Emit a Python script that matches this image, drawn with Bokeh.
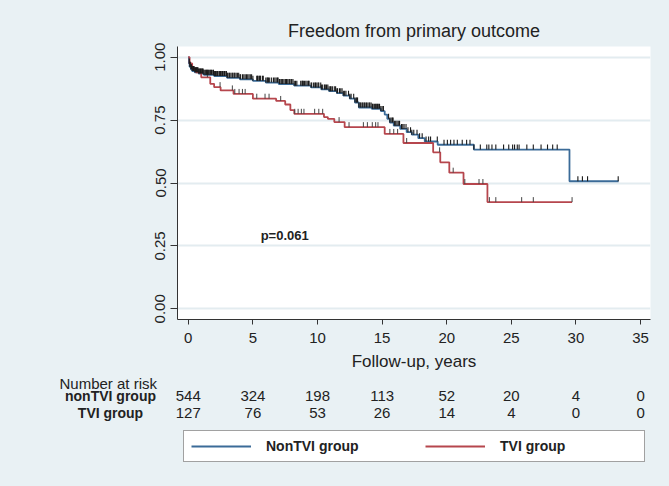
import numpy as np
from bokeh.plotting import figure
from bokeh.layouts import column
from bokeh.models import (ColumnDataSource, Range1d, FixedTicker, Label,
                          Legend, LegendItem, NumeralTickFormatter)
from bokeh.core.properties import value
from bokeh.embed import file_html
from bokeh.resources import INLINE

# ---------------- data ----------------
title_text = "Freedom from primary outcome"
x_label = "Follow-up, years"
p_text = "p=0.061"

nontvi_times = [0, 0.05, 0.1, 0.2, 0.3, 0.5, 0.8, 1.2, 2.0, 3.0, 4.0, 5.0, 6.0, 7.0, 8.2, 9.5,
                10.3, 10.9, 11.5, 12.0, 12.5, 12.9, 13.2, 14.2, 14.9, 15.2, 15.4, 15.6, 15.9,
                16.4, 16.9, 17.3, 17.8, 18.3, 19.3, 22.1, 29.5]
nontvi_surv = [1.0, 0.975, 0.962, 0.952, 0.945, 0.94, 0.935, 0.93, 0.925, 0.918, 0.912, 0.906,
               0.899, 0.893, 0.887, 0.88, 0.872, 0.865, 0.857, 0.847, 0.835, 0.82, 0.80, 0.795,
               0.786, 0.772, 0.755, 0.74, 0.728, 0.715, 0.702, 0.692, 0.678, 0.665, 0.652,
               0.633, 0.507]
nontvi_end = 33.3
nontvi_censor = [0.08, 0.12, 0.15, 0.2, 0.25, 0.3, 0.35, 0.4, 0.45, 0.5, 0.55, 0.6, 0.65, 0.7,
                 0.75, 0.8, 0.85, 0.9, 0.95, 1.0, 1.05, 1.1, 1.15, 1.2, 1.28, 1.35, 1.4, 1.45,
                 1.5, 1.55, 1.62, 1.7, 1.75, 1.8, 1.9, 1.95, 2.0, 2.05, 2.1, 2.2, 2.25, 2.3,
                 2.4, 2.45, 2.5, 2.55, 2.65, 2.7, 2.8, 2.85, 2.95, 3.0, 3.05, 3.15, 3.2, 3.3,
                 3.4, 3.45, 3.55, 3.6, 3.7, 3.8, 3.9, 4.0, 4.05, 4.2, 4.3, 4.4, 4.5, 4.6, 4.7,
                 4.8, 4.9, 5.0, 5.3, 5.35, 5.4, 5.5, 5.55, 5.6, 5.75, 5.8, 6.0, 6.1, 6.15, 6.2,
                 6.3, 6.45, 6.6, 6.7, 6.8, 6.9, 6.95, 7.05, 7.1, 7.2, 7.3, 7.4, 7.5, 7.55, 7.6,
                 7.7, 7.8, 7.85, 7.95, 8.0, 8.1, 8.2, 8.3, 8.4, 8.7, 8.8, 8.85, 8.9, 9.0, 9.1,
                 9.2, 9.3, 9.35, 9.5, 9.55, 9.7, 9.8, 9.85, 9.95, 10.05, 10.1, 10.25, 10.3,
                 10.4, 10.55, 10.6, 10.7, 10.8, 10.9, 11.0, 11.05, 11.15, 11.3, 11.4, 11.5,
                 11.55, 11.7, 11.8, 11.9, 12.0, 12.1, 12.2, 12.4, 12.5, 12.6, 12.8, 12.9, 13.0,
                 13.05, 13.1, 13.2, 13.3, 13.35, 13.45, 13.5, 13.6, 13.65, 13.75, 13.8, 13.9,
                 14.0, 14.05, 14.15, 14.25, 14.3, 14.4, 14.5, 14.55, 14.65, 14.7, 14.8, 14.9,
                 15.0, 15.1, 15.5, 15.6, 15.7, 15.8, 15.85, 15.95, 16.05, 16.15, 16.25, 16.35,
                 16.5, 16.6, 16.7, 16.85, 17.0, 17.2, 17.3, 17.45, 17.7, 17.9, 18.1, 18.4,
                 18.6, 18.75, 19.27, 19.79, 20.05, 20.3, 20.56, 20.82, 21.2, 21.54, 21.8, 22.1,
                 22.6, 23.1, 23.26, 23.5, 23.8, 24.4, 24.8, 25.1, 25.25, 25.46, 25.6, 26.2,
                 26.7, 27.3, 27.8, 28.2, 28.55, 30.15, 30.5, 30.9, 33.27]

tvi_times = [0, 0.1, 0.3, 0.6, 1.0, 1.7, 2.0, 2.5, 3.5, 5.0, 6.8, 7.5, 7.9, 8.2, 10.5, 10.8,
             11.3, 12.1, 15.2, 16.65, 18.95, 19.5, 20.2, 21.3, 23.15]
tvi_surv = [1.0, 0.975, 0.955, 0.94, 0.92, 0.894, 0.881, 0.868, 0.854, 0.835, 0.826, 0.812,
            0.79, 0.775, 0.762, 0.755, 0.742, 0.722, 0.695, 0.659, 0.622, 0.582, 0.541,
            0.496, 0.424]
tvi_end = 29.7
tvi_censor = [0.66, 1.48, 2.46, 3.41, 3.6, 3.93, 4.19, 4.4, 5.3, 5.94, 6.25, 7.15, 8.24, 8.5,
              8.75, 8.95, 9.78, 10.1, 10.4, 11.67, 12.44, 13.55, 13.86, 14.24, 14.5, 14.68,
              15.6, 15.9, 16.2, 16.9, 19.45, 20.5, 21.4, 22.5, 22.8, 23.3, 23.8, 25.8, 26.7,
              29.7]

x_ticks = [0, 5, 10, 15, 20, 25, 30, 35]
y_ticks = [0.0, 0.25, 0.5, 0.75, 1.0]
risk_times = [0, 5, 10, 15, 20, 25, 30, 35]
risk_nontvi = [544, 324, 198, 113, 52, 20, 4, 0]
risk_tvi = [127, 76, 53, 26, 14, 4, 0, 0]
risk_header = "Number at risk"
risk_groups = ["nonTVI group", "TVI group"]
legend_labels = ["NonTVI group", "TVI group"]

# ---------------- layout / style ----------------
W, H = 669, 486
H_TOP = 374
FL, FR, FT, FB = 177, 650, 46, 319
X0, X1 = -0.835, 35.77
Y0, Y1 = -0.0425, 1.0425
SX = (FR - FL) / (X1 - X0)
SY = (FB - FT) / (Y1 - Y0)


def px_x(px):
    return X0 + (px - FL) / SX


BG = "#e9f1f4"
BLUE = "#3b6b98"
RED = "#b6464d"
TXT = "#222222"
FONT = "Liberation Sans"

# ---------------- main plot ----------------
p = figure(width=W, height=H_TOP, x_range=Range1d(X0, X1), y_range=Range1d(Y0, Y1),
           output_backend="svg", toolbar_location=None, title=title_text,
           min_border_left=FL, min_border_right=W - FR, min_border_top=FT,
           min_border_bottom=H_TOP - FB)
p.frame_align = False
p.border_fill_color = BG
p.background_fill_color = "white"
p.outline_line_color = None

p.title.align = "center"
p.title.text_font = FONT
p.title.text_font_size = "18px"
p.title.text_font_style = "normal"
p.title.text_color = TXT
p.title.standoff = 12

for ax in (p.xaxis[0], p.yaxis[0]):
    ax.axis_line_color = "#333333"
    ax.major_tick_line_color = "#333333"
    ax.minor_tick_line_color = None
    ax.major_tick_in = 0
    ax.major_label_text_font = FONT
    ax.major_label_text_font_size = "15px"
    ax.major_label_text_color = TXT

p.xaxis.ticker = FixedTicker(ticks=x_ticks)
p.xaxis.major_tick_out = 5
p.xaxis.major_label_standoff = 8
p.xaxis.axis_label = x_label
p.xaxis.axis_label_text_font = FONT
p.xaxis.axis_label_text_font_size = "17px"
p.xaxis.axis_label_text_font_style = "normal"
p.xaxis.axis_label_text_color = TXT
p.xaxis.axis_label_standoff = 6

p.yaxis.ticker = FixedTicker(ticks=y_ticks)
p.yaxis.formatter = NumeralTickFormatter(format="0.00")
p.yaxis.major_label_orientation = "vertical"
p.yaxis.major_tick_out = 7
p.yaxis.major_label_standoff = 5

p.xgrid.visible = False
p.ygrid.grid_line_color = "#e3ecf0"
p.ygrid.grid_line_width = 2

bx = nontvi_times + [nontvi_end]
by = nontvi_surv + [nontvi_surv[-1]]
rx = tvi_times + [tvi_end]
ry = tvi_surv + [tvi_surv[-1]]
p.step(bx, by, mode="after", line_color=BLUE, line_width=1.8)
p.step(rx, ry, mode="after", line_color=RED, line_width=1.8)


def surv_at(times, surv, ts):
    idx = np.searchsorted(np.array(times), np.array(ts), side="right") - 1
    return np.array(surv)[idx]


TICK_H = 5 / SY
cb = surv_at(nontvi_times, nontvi_surv, nontvi_censor)
cr = surv_at(tvi_times, tvi_surv, tvi_censor)
p.segment(x0=tvi_censor, y0=cr, x1=tvi_censor, y1=cr + TICK_H, line_color="#444444",
          line_width=1)
p.segment(x0=nontvi_censor, y0=cb, x1=nontvi_censor, y1=cb + TICK_H, line_color="#1a1a1a",
          line_width=1.1)

p.add_layout(Label(x=5.6, y=0.29, text=p_text, text_font=FONT, text_font_size="13px",
                   text_font_style="bold", text_align="left", text_baseline="middle",
                   text_color=TXT))

# ---------------- risk table + legend (below) ----------------
q = figure(width=W, height=H - H_TOP, x_range=Range1d(px_x(0), px_x(W)),
           y_range=Range1d(H, H_TOP), x_axis_type=None, y_axis_type=None,
           output_backend="svg", toolbar_location=None, min_border=0,
           min_border_left=0, min_border_right=0, min_border_top=0, min_border_bottom=0)
q.frame_align = False
q.border_fill_color = BG
q.background_fill_color = BG
q.outline_line_color = None
q.xgrid.visible = False
q.ygrid.visible = False

row_y = [395.0, 412.8]
q.text(x=[px_x(59)], y=[382.5], text=[risk_header], text_font=value(FONT),
       text_font_size="15px", text_align="left", text_baseline="middle", text_color=TXT)
for gi, (name, counts) in enumerate(zip(risk_groups, [risk_nontvi, risk_tvi])):
    q.text(x=[px_x(110)], y=[row_y[gi]], text=[name], text_font=value(FONT),
           text_font_size="14px", text_font_style="bold", text_align="center",
           text_baseline="middle", text_color=TXT)
    src = ColumnDataSource(dict(x=risk_times, y=[row_y[gi]] * len(risk_times),
                                t=[str(c) for c in counts]))
    q.text(x="x", y="y", text="t", source=src, text_font=value(FONT),
           text_font_size="15px", text_align="center", text_baseline="middle",
           text_color=TXT)

# legend renderers (same curves; they fall outside this panel's visible y-range)
lb = q.step(bx, by, mode="after", line_color=BLUE, line_width=1.8)
lr = q.step(rx, ry, mode="after", line_color=RED, line_width=1.8)

legend = Legend(items=[LegendItem(label=legend_labels[0], renderers=[lb]),
                       LegendItem(label=legend_labels[1], renderers=[lr])],
                orientation="horizontal", location=(183, H - 462))
legend.label_text_font = FONT
legend.label_text_font_size = "14px"
legend.label_text_font_style = "bold"
legend.label_text_color = TXT
legend.glyph_width = 60
legend.glyph_height = 16
legend.label_standoff = 15
legend.label_width = 137
legend.spacing = 22
legend.padding = 7
legend.margin = 0
legend.border_line_color = "#444444"
legend.border_line_width = 1
legend.background_fill_color = "white"
legend.background_fill_alpha = 1
q.add_layout(legend)

layout = column(p, q, spacing=0, styles={"background-color": BG})
open("out.html", "w").write(file_html(layout, INLINE))
